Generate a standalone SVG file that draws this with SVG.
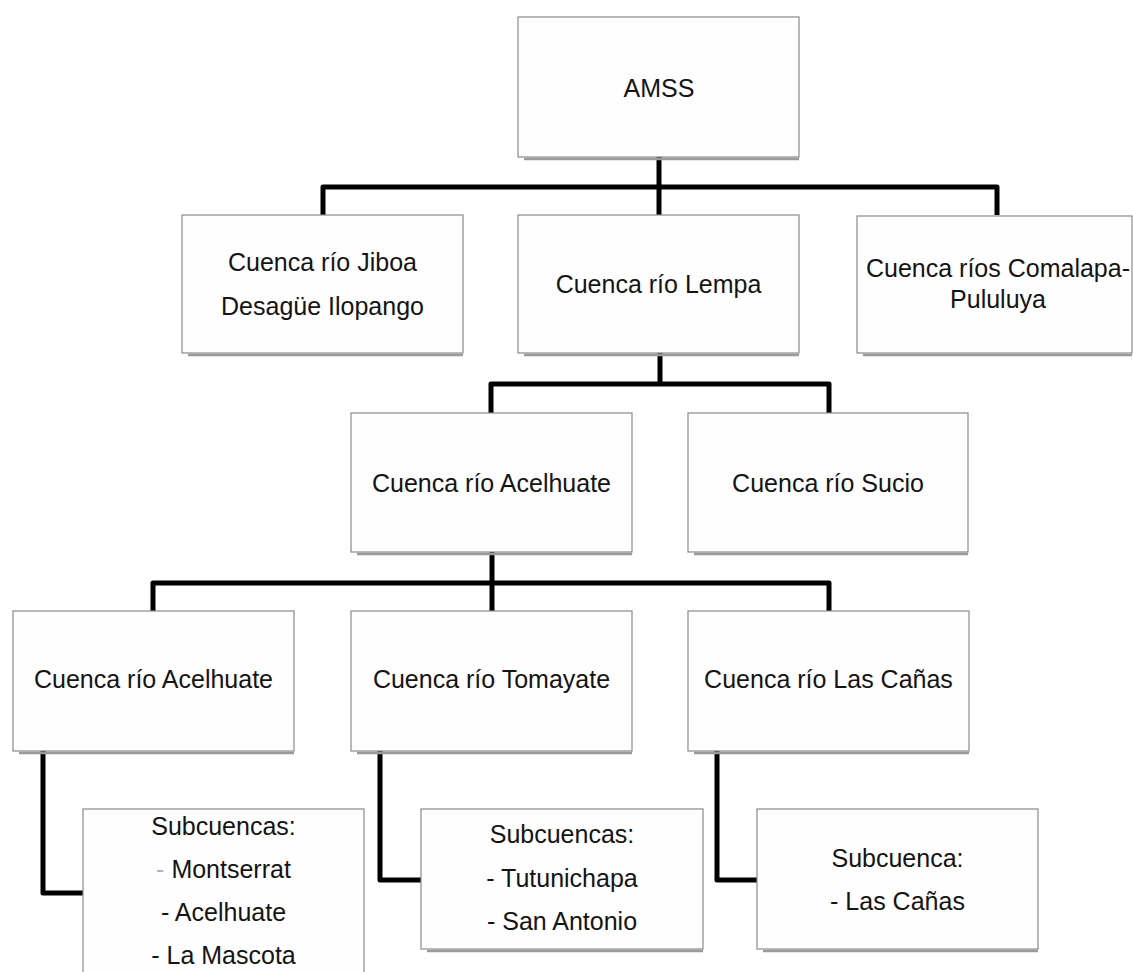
<svg xmlns="http://www.w3.org/2000/svg" width="1133" height="972" viewBox="0 0 1133 972">
<style>
.box{fill:#fefefe;stroke:#8a8a8a;stroke-width:1.2}
.sh{stroke:#9a9a9a;stroke-width:2.5;fill:none}
.t{font-family:"Liberation Sans",Arial,sans-serif;font-size:25px;fill:#141414;text-anchor:middle}
.c{fill:none;stroke:#000;stroke-width:5;stroke-linejoin:round;stroke-linecap:butt}
.dim{fill:#b5b5b5}
</style>
<rect width="1133" height="972" fill="#ffffff"/>
<g id="connectors">
<path class="c" d="M659,157 V215"/>
<path class="c" d="M323,215 V187 H997 V215"/>
<path class="c" d="M660,353 V384"/>
<path class="c" d="M491,413 V384 H829 V413"/>
<path class="c" d="M492,552 V611"/>
<path class="c" d="M153,611 V583 H829 V611"/>
<path class="c" d="M43,751 V893 H83"/>
<path class="c" d="M380,751 V880 H421"/>
<path class="c" d="M717,751 V880 H757"/>
</g>
<g id="n-amss">
<line class="sh" x1="524" y1="159" x2="799" y2="159"/>
<rect class="box" x="518" y="17" width="281" height="140"/>
<text class="t" x="659" y="97" font-size="26">AMSS</text>
</g>
<g id="n-jiboa">
<line class="sh" x1="188" y1="355" x2="463" y2="355"/>
<rect class="box" x="182" y="215" width="281" height="138"/>
<text class="t" x="322.5" y="271">Cuenca río Jiboa</text>
<text class="t" x="322.5" y="315">Desagüe Ilopango</text>
</g>
<g id="n-lempa">
<line class="sh" x1="524" y1="355" x2="799" y2="355"/>
<rect class="box" x="518" y="215" width="281" height="138"/>
<text class="t" x="658.5" y="293">Cuenca río Lempa</text>
</g>
<g id="n-comalapa">
<line class="sh" x1="863" y1="355" x2="1132" y2="355"/>
<rect class="box" x="857" y="216" width="275" height="137"/>
<text class="t" x="998" y="277">Cuenca ríos Comalapa-</text>
<text class="t" x="998" y="308">Pululuya</text>
</g>
<g id="n-acelhuate-l3">
<line class="sh" x1="357" y1="554" x2="632" y2="554"/>
<rect class="box" x="351" y="413" width="281" height="139"/>
<text class="t" x="491.5" y="492">Cuenca río Acelhuate</text>
</g>
<g id="n-sucio">
<line class="sh" x1="694" y1="554" x2="968" y2="554"/>
<rect class="box" x="688" y="413" width="280" height="139"/>
<text class="t" x="828" y="492">Cuenca río Sucio</text>
</g>
<g id="n-acelhuate-l4">
<line class="sh" x1="19" y1="753" x2="294" y2="753"/>
<rect class="box" x="13" y="611" width="281" height="140"/>
<text class="t" x="153.5" y="688">Cuenca río Acelhuate</text>
</g>
<g id="n-tomayate">
<line class="sh" x1="357" y1="753" x2="632" y2="753"/>
<rect class="box" x="351" y="611" width="281" height="140"/>
<text class="t" x="491.5" y="688">Cuenca río Tomayate</text>
</g>
<g id="n-lascanas">
<line class="sh" x1="694" y1="753" x2="969" y2="753"/>
<rect class="box" x="688" y="611" width="281" height="140"/>
<text class="t" x="828.5" y="688">Cuenca río Las Cañas</text>
</g>
<g id="n-sub-acelhuate">
<rect class="box" x="83" y="809" width="281" height="190"/>
<text class="t" x="223.5" y="835">Subcuencas:</text>
<text class="t" x="223.5" y="878"><tspan class="dim">-</tspan> Montserrat</text>
<text class="t" x="223.5" y="921">- Acelhuate</text>
<text class="t" x="223.5" y="964">- La Mascota</text>
</g>
<g id="n-sub-tomayate">
<line class="sh" x1="427" y1="951" x2="703" y2="951"/>
<rect class="box" x="421" y="809" width="282" height="140"/>
<text class="t" x="562" y="843">Subcuencas:</text>
<text class="t" x="562" y="887">- Tutunichapa</text>
<text class="t" x="562" y="930">- San Antonio</text>
</g>
<g id="n-sub-lascanas">
<line class="sh" x1="763" y1="951" x2="1038" y2="951"/>
<rect class="box" x="757" y="809" width="281" height="140"/>
<text class="t" x="897.5" y="867">Subcuenca:</text>
<text class="t" x="897.5" y="910">- Las Cañas</text>
</g>
</svg>
